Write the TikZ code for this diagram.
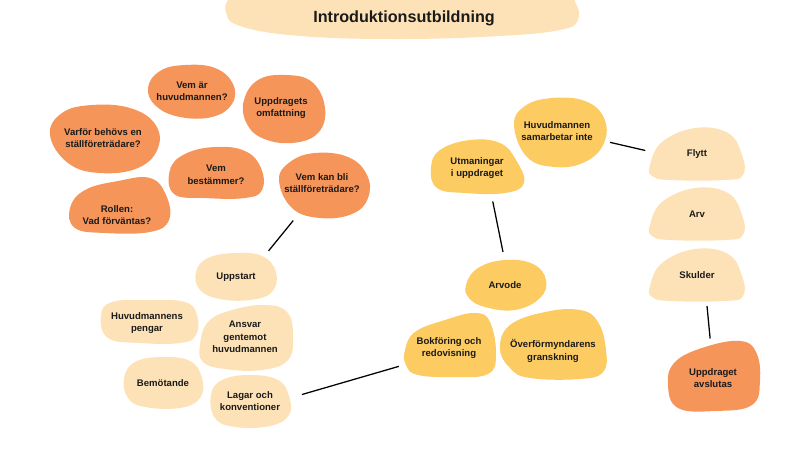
\documentclass[tikz,border=0pt]{standalone}
\usepackage{fontspec}
\setmainfont{Liberation Sans}
\usetikzlibrary{shapes.geometric}

\definecolor{darkblob}{HTML}{F6955A}
\definecolor{midblob}{HTML}{FCCB62}
\definecolor{lightblob}{HTML}{FEE2B7}
\definecolor{ink}{HTML}{1A1A1A}

\tikzset{
  item/.style={ellipse, inner sep=0pt, align=center, text=ink,
    font=\bfseries\fontsize{6.8}{8.9}\selectfont},
  blobsize/.style 2 args={minimum width=#1*0.025cm, minimum height=#2*0.025cm},
  link/.style={line width=0.9pt, shorten <=#1, shorten >=#1},
}

\begin{document}
\begin{tikzpicture}[x=0.025cm, y=-0.025cm]
	\useasboundingbox (0,0) rectangle (800,450);
	\clip (0,0) rectangle (800,450);

	% Title
	\fill[lightblob] plot[smooth cycle, tension=0.7] coordinates {(226,12) (240,26) (300,36) (400,39) (500,36) (560,30) (578,20) (575,2) (560,-10) (400,-14) (250,-10) (230,-2)};
	\node (title) at (404,18) [text=ink, font=\bfseries\fontsize{11.5}{13}\selectfont] {Introduktionsutbildning};

	% Questions about the role (dark)
	\fill[darkblob] plot[smooth cycle, tension=0.7] coordinates {(148,88) (160,71) (185,65) (215,68) (233,84) (232,104) (212,117) (180,117) (156,106)};
	\fill[darkblob] plot[smooth cycle, tension=0.7] coordinates {(244,100) (258,80) (285,75) (312,82) (325,108) (318,133) (292,143) (262,138) (246,122)};
	\fill[darkblob] plot[smooth cycle, tension=0.7] coordinates {(50,135) (62,113) (92,105) (130,108) (155,124) (158,148) (138,168) (100,173) (68,163)};
	\fill[darkblob] plot[smooth cycle, tension=0.7] coordinates {(170,170) (185,154) (215,147) (245,151) (261,168) (262,190) (245,198) (205,198) (174,194)};
	\fill[darkblob] plot[smooth cycle, tension=0.7] coordinates {(279,180) (290,162) (315,153) (348,157) (367,175) (368,198) (352,214) (320,218) (292,208)};
	\fill[darkblob] plot[smooth cycle, tension=0.7] coordinates {(70,208) (85,190) (118,181) (150,178) (166,195) (169,220) (150,232) (105,233) (75,228)};

	\node[item, blobsize={89}{53}] (vemar) at (192,91) {Vem är\\huvudmannen?};
	\node[item, blobsize={83}{68}] (omfattning) at (281,108) {Uppdragets\\omfattning};
	\node[item, blobsize={112}{68}] (varfor) at (103,138) {Varför behövs en\\ställföreträdare?};
	\node[item, blobsize={94}{51}] (bestammer) at (216,175) {Vem\\bestämmer?};
	\node[item, blobsize={93}{65}] (vemkan) at (322,183) {Vem kan bli\\ställföreträdare?};
	\node[item, blobsize={100}{54}] (rollen) at (117,215) {Rollen:\\Vad förväntas?};

	% Getting started (light)
	\fill[lightblob] plot[smooth cycle, tension=0.7] coordinates {(196,272) (208,258) (235,253) (262,256) (276,272) (272,292) (250,300) (220,299) (200,290)};
	\fill[lightblob] plot[smooth cycle, tension=0.7] coordinates {(101,316) (112,302) (150,300) (185,302) (197,315) (196,335) (180,343) (140,343) (108,338)};
	\fill[lightblob] plot[smooth cycle, tension=0.7] coordinates {(200,345) (208,322) (232,310) (265,305) (287,312) (293,335) (288,360) (262,370) (225,369) (203,362)};
	\fill[lightblob] plot[smooth cycle, tension=0.7] coordinates {(124,378) (135,362) (162,357) (190,361) (202,378) (200,398) (180,408) (145,407) (128,398)};
	\fill[lightblob] plot[smooth cycle, tension=0.7] coordinates {(211,395) (222,380) (250,375) (278,380) (289,396) (289,415) (270,426) (235,427) (215,418)};

	\node[item, blobsize={82}{47}] (uppstart) at (236,277) {Uppstart};
	\node[item, blobsize={98}{43}] (pengar) at (147,323) {Huvudmannens\\pengar};
	\node[item, blobsize={94}{65}] (ansvar) at (245,337) {Ansvar\\gentemot\\huvudmannen};
	\node[item, blobsize={80}{51}] (bemotande) at (163,383) {Bemötande};
	\node[item, blobsize={80}{52}] (lagar) at (250,401) {Lagar och\\konventioner};

	% Challenges (yellow)
	\fill[midblob] plot[smooth cycle, tension=0.7] coordinates {(514,125) (525,106) (552,98) (585,101) (604,118) (604,143) (585,162) (555,167) (527,157)};
	\fill[midblob] plot[smooth cycle, tension=0.7] coordinates {(431,168) (440,150) (470,140) (500,143) (516,160) (524,183) (505,193) (465,193) (437,188)};
	\fill[midblob] plot[smooth cycle, tension=0.7] coordinates {(466,285) (478,268) (505,260) (533,264) (546,280) (540,298) (515,310) (485,307) (469,298)};
	\fill[midblob] plot[smooth cycle, tension=0.7] coordinates {(405,350) (415,332) (445,320) (475,313) (490,322) (496,355) (488,374) (455,377) (418,375) (406,365)};
	\fill[midblob] plot[smooth cycle, tension=0.7] coordinates {(500,348) (510,325) (545,312) (580,310) (598,322) (606,350) (603,372) (580,379) (530,378) (510,368)};

	\node[item, blobsize={93}{69}] (samarbetar) at (557,131) {Huvudmannen\\samarbetar inte};
	\node[item, blobsize={95}{53}] (utmaningar) at (477,168) {Utmaningar\\i uppdraget};
	\node[item, blobsize={81}{50}] (arvode) at (505,285) {Arvode};
	\node[item, blobsize={92}{64}] (bokforing) at (449,348) {Bokföring och\\redovisning};
	\node[item, blobsize={108}{69}] (granskning) at (553,351) {Överförmyndarens\\granskning};

	% Ending the assignment
	\foreach \dy in {0,60,121}
		\fill[lightblob, shift={(0,\dy)}] plot[smooth cycle, tension=0.7] coordinates {(650,165) (662,142) (695,128) (728,133) (742,155) (743,175) (725,180) (670,180) (652,176)};
	\fill[darkblob] plot[smooth cycle, tension=0.7] coordinates {(668,385) (675,362) (705,347) (740,341) (756,352) (760,380) (752,405) (715,411) (678,408)};

	\node[item, blobsize={94}{52}] (flytt) at (697,154) {Flytt};
	\node[item, blobsize={94}{52}] (arv) at (697,214) {Arv};
	\node[item, blobsize={94}{53}] (skulder) at (697,275) {Skulder};
	\node[item, blobsize={93}{69}] (avslutas) at (713,378) {Uppdraget\\avslutas};

	% Connectors
	\draw[link=0.25cm] (vemkan.233) -- (uppstart.35);
	\draw[link=0.25cm] (lagar.5) -- (bokforing.201);
	\draw[link=0.2cm] (utmaningar.299) -- (arvode.91);
	\draw[link=0.12cm] (samarbetar.348) -- (flytt.177);
	\draw[link=0.12cm] (skulder.290) -- (avslutas.94);

\end{tikzpicture}
\end{document}
